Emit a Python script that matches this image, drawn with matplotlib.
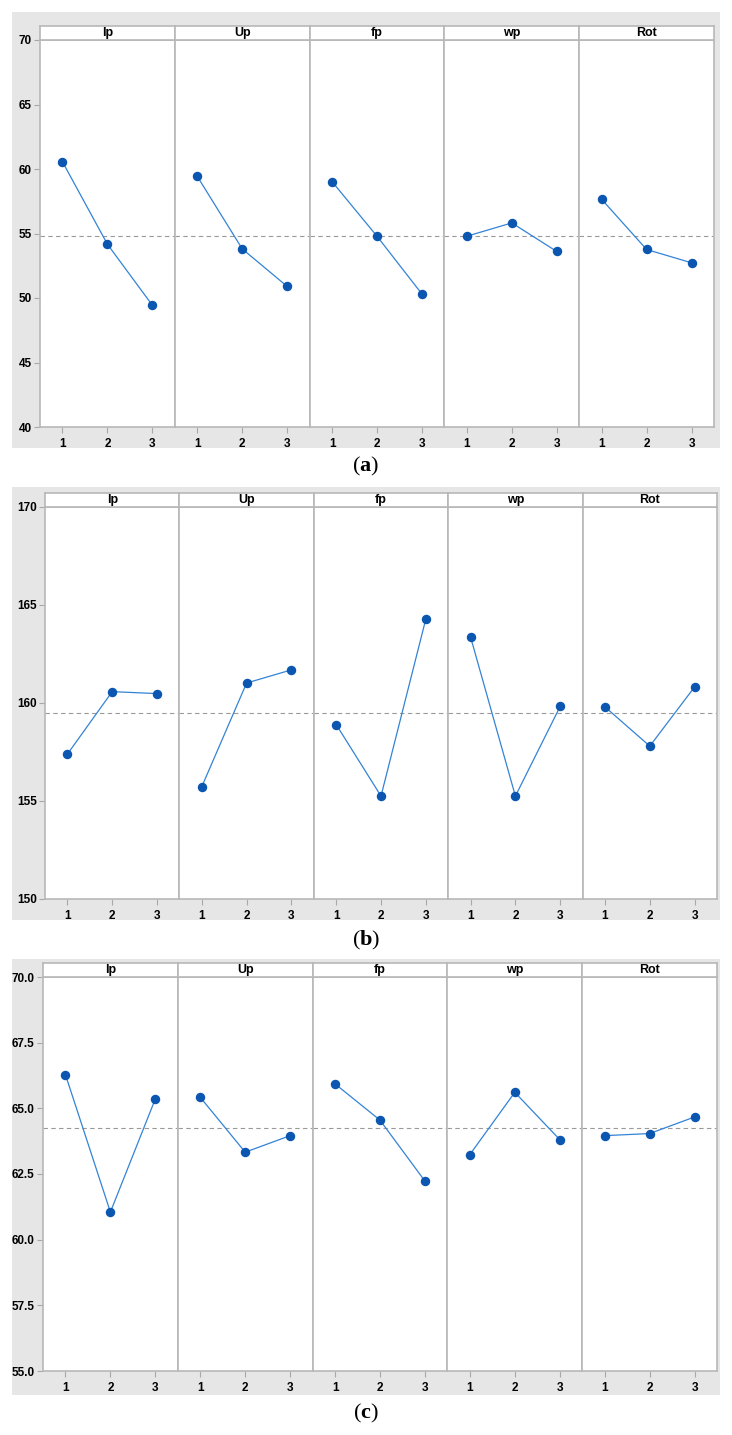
import matplotlib
matplotlib.use("Agg")
import matplotlib.pyplot as plt
from matplotlib.patches import Rectangle

plt.rcParams['font.family'] = ['Liberation Sans', 'DejaVu Sans']
plt.rcParams['mathtext.fontset'] = 'custom'
plt.rcParams['mathtext.bf'] = 'Liberation Serif:bold'

factors = ["Ip", "Up", "fp", "wp", "Rot"]
levels = [1, 2, 3]

# (a)
a_ip = [60.56, 54.17, 49.44]
a_up = [59.43, 53.81, 50.90]
a_fp = [59.02, 54.79, 50.31]
a_wp = [54.79, 55.82, 53.61]
a_rot = [57.65, 53.76, 52.73]
a_mean = 54.77

# (b)
b_ip = [157.39, 160.58, 160.48]
b_up = [155.73, 161.02, 161.69]
b_fp = [158.90, 155.25, 164.28]
b_wp = [163.36, 155.25, 159.83]
b_rot = [159.80, 157.80, 160.82]
b_mean = 159.49

# (c)
c_ip = [66.28, 61.05, 65.36]
c_up = [65.42, 63.33, 63.96]
c_fp = [65.93, 64.55, 62.23]
c_wp = [63.24, 65.61, 63.81]
c_rot = [63.96, 64.04, 64.67]
c_mean = 64.26

W, H = 732, 1435
fig = plt.figure(figsize=(W / 100, H / 100), dpi=100)


def rect(x0, y0, w, h):
    return [x0 / W, 1 - (y0 + h) / H, w / W, h / H]


def draw_panel(series, mean, ylim, yticks, yfmt, grey, plot_x, plot_y, label, label_y):
    gx0, gy0, gx1, gy1 = grey
    fig.patches.append(Rectangle((gx0 / W, 1 - gy1 / H), (gx1 - gx0) / W, (gy1 - gy0) / H,
                                 transform=fig.transFigure, facecolor="#e6e6e6",
                                 edgecolor="none", zorder=-5))
    x0, x1 = plot_x
    y0, y1 = plot_y
    sw = (x1 - x0) / 5
    for i, (name, vals) in enumerate(zip(factors, series)):
        ax = fig.add_axes(rect(x0 + i * sw, y0, sw, y1 - y0))
        ax.axhline(mean, color="#9a9a9a", lw=0.8, ls=(0, (4, 3)), zorder=1)
        ax.plot(levels, vals, color="#3383d6", lw=0.9, zorder=2)
        ax.plot(levels, vals, "o", color="#0a56b0", ms=5.8, zorder=3)
        ax.set_xlim(0.5, 3.5)
        ax.set_ylim(*ylim)
        ax.set_xticks(levels)
        ax.set_xticklabels([str(v) for v in levels], fontsize=8.5, fontweight="bold")
        ax.tick_params(axis="x", length=4, color="#a8a8a8", pad=4)
        if i == 0:
            ax.set_yticks(yticks)
            ax.set_yticklabels([yfmt.format(v) for v in yticks], fontsize=8.5, fontweight="bold")
            ax.tick_params(axis="y", length=4, color="#a8a8a8", pad=2)
        else:
            ax.set_yticks([])
        for sp in ax.spines.values():
            sp.set_color("#b8b8b8")
            sp.set_linewidth(1.2)
        hx = fig.add_axes(rect(x0 + i * sw, y0 - 14, sw, 14))
        hx.set_xticks([])
        hx.set_yticks([])
        for sp in hx.spines.values():
            sp.set_color("#b8b8b8")
            sp.set_linewidth(1.2)
        hx.text(0.5, 0.5, name, ha="center", va="center", fontsize=9,
                fontweight="bold", transform=hx.transAxes)
    fig.text(0.5, 1 - label_y / H, "(" + r"$\mathbf{" + label + "}$" + ")",
             ha="center", va="center", fontsize=16, family="Liberation Serif")


draw_panel([a_ip, a_up, a_fp, a_wp, a_rot], a_mean, (40, 70), [40, 45, 50, 55, 60, 65, 70],
           "{:.0f}", (12, 12, 720, 448), (40, 714), (40, 427), "a", 466)
draw_panel([b_ip, b_up, b_fp, b_wp, b_rot], b_mean, (150, 170), [150, 155, 160, 165, 170],
           "{:.0f}", (12, 487, 720, 920), (45, 717), (507, 899), "b", 940)
draw_panel([c_ip, c_up, c_fp, c_wp, c_rot], c_mean, (55, 70), [55, 57.5, 60, 62.5, 65, 67.5, 70],
           "{:.1f}", (12, 959, 720, 1395), (43, 717), (977, 1371), "c", 1413)

fig.savefig("out.png", dpi=100)
